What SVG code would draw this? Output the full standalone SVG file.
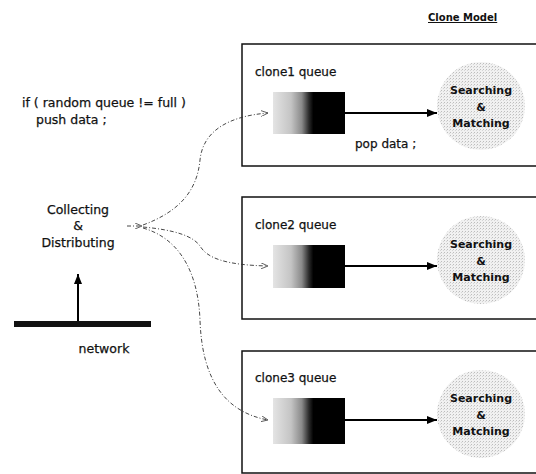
<svg xmlns="http://www.w3.org/2000/svg" width="536" height="474" viewBox="0 0 536 474">
  <defs>
    <style>
      text { font-family: "DejaVu Sans", "Liberation Sans", sans-serif; fill: #111; }
      .lbl { font-size: 12.5px; stroke: #111; stroke-width: 0.25; }
      .qlbl { font-size: 12px; stroke: #111; stroke-width: 0.25; }
      .sm { font-size: 11px; font-weight: bold; text-anchor: middle; }
      .title { font-size: 10px; font-weight: bold; text-decoration: underline; }
      .box { fill: #fff; stroke: #111; stroke-width: 1.5; }
      .queue { fill: url(#qgrad); }
      .proc { fill: url(#dots); }
      .flow { stroke: #000; stroke-width: 2; fill: none; marker-end: url(#solid); }
      .dist { stroke: #333; stroke-width: 0.9; fill: none; stroke-dasharray: 4 2 1 2; marker-end: url(#open); }
    </style>
    <linearGradient id="qgrad" x1="0" y1="0" x2="1" y2="0">
      <stop offset="0" stop-color="#e4e4e4"/>
      <stop offset="0.25" stop-color="#c4c4c4"/>
      <stop offset="0.4" stop-color="#8a8a8a"/>
      <stop offset="0.5" stop-color="#2a2a2a"/>
      <stop offset="0.56" stop-color="#000"/>
      <stop offset="1" stop-color="#000"/>
    </linearGradient>
    <pattern id="dots" width="3" height="3" patternUnits="userSpaceOnUse">
      <rect width="3" height="3" fill="#f1f1f1"/>
      <rect width="1" height="1" fill="#bdbdbd"/>
      <rect x="2" y="1" width="1" height="1" fill="#d6d6d6"/>
    </pattern>
    <marker id="solid" viewBox="0 0 10 8" refX="10" refY="4" markerWidth="10" markerHeight="8" markerUnits="userSpaceOnUse" orient="auto">
      <path d="M0,0 L10,4 L0,8 Z" fill="#000"/>
    </marker>
    <marker id="open" viewBox="0 0 8 6" refX="7" refY="3" markerWidth="8" markerHeight="6" markerUnits="userSpaceOnUse" orient="auto">
      <path d="M0,0 L7,3 L0,6" fill="none" stroke="#555" stroke-width="0.9"/>
    </marker>
  </defs>

  <rect width="536" height="474" fill="#fff"/>

  <text class="title" x="428" y="21">Clone Model</text>

  <!-- source side -->
  <g id="rule">
    <text class="lbl" x="22" y="107">if  ( random queue != full )</text>
    <text class="lbl" x="36" y="124">push data ;</text>
  </g>

  <g id="distributor">
    <text class="lbl" x="78" y="214" text-anchor="middle">Collecting</text>
    <text class="lbl" x="78" y="230" text-anchor="middle">&amp;</text>
    <text class="lbl" x="78" y="247" text-anchor="middle">Distributing</text>
  </g>

  <g id="network">
    <rect x="14" y="321" width="137" height="6" fill="#111"/>
    <text class="lbl" x="104" y="353" text-anchor="middle">network</text>
  </g>

  <!-- clone 1 -->
  <g id="clone1">
    <rect class="box" x="242" y="44" width="300" height="122"/>
    <text class="qlbl" x="255" y="76">clone1 queue</text>
    <rect class="queue" x="273" y="92" width="72" height="42"/>
    <circle class="proc" cx="481" cy="106" r="44"/>
    <text class="sm" x="481" y="94">Searching</text>
    <text class="sm" x="481" y="111">&amp;</text>
    <text class="sm" x="481" y="127">Matching</text>
    <text class="qlbl" x="355" y="148">pop data ;</text>
  </g>

  <!-- clone 2 -->
  <g id="clone2">
    <rect class="box" x="242" y="197" width="300" height="122"/>
    <text class="qlbl" x="255" y="229">clone2 queue</text>
    <rect class="queue" x="273" y="245" width="72" height="43"/>
    <circle class="proc" cx="481" cy="260" r="44"/>
    <text class="sm" x="481" y="248">Searching</text>
    <text class="sm" x="481" y="265">&amp;</text>
    <text class="sm" x="481" y="281">Matching</text>
  </g>

  <!-- clone 3 -->
  <g id="clone3">
    <rect class="box" x="242" y="351" width="300" height="122"/>
    <text class="qlbl" x="255" y="382">clone3 queue</text>
    <rect class="queue" x="273" y="398" width="72" height="46"/>
    <circle class="proc" cx="481" cy="414" r="44"/>
    <text class="sm" x="481" y="402">Searching</text>
    <text class="sm" x="481" y="419">&amp;</text>
    <text class="sm" x="481" y="435">Matching</text>
  </g>

  <!-- connectors -->
  <g id="connectors">
    <line x1="78" y1="321" x2="78" y2="274" stroke="#000" stroke-width="2" marker-end="url(#solid)"/>
    <line class="flow" x1="345" y1="113" x2="437" y2="113"/>
    <line class="flow" x1="345" y1="266" x2="437" y2="266"/>
    <line class="flow" x1="345" y1="420" x2="437" y2="420"/>
    <line class="dist" x1="127" y1="226" x2="142" y2="226"/>
    <path class="dist" d="M143,225 C178,212 197,192 200,160 C203,130 230,116 268,113"/>
    <path class="dist" d="M143,227 C175,230 193,236 200,246 C207,258 225,265 268,266"/>
    <path class="dist" d="M143,228 C178,238 198,270 200,320 C202,380 225,412 268,420"/>
  </g>
</svg>
